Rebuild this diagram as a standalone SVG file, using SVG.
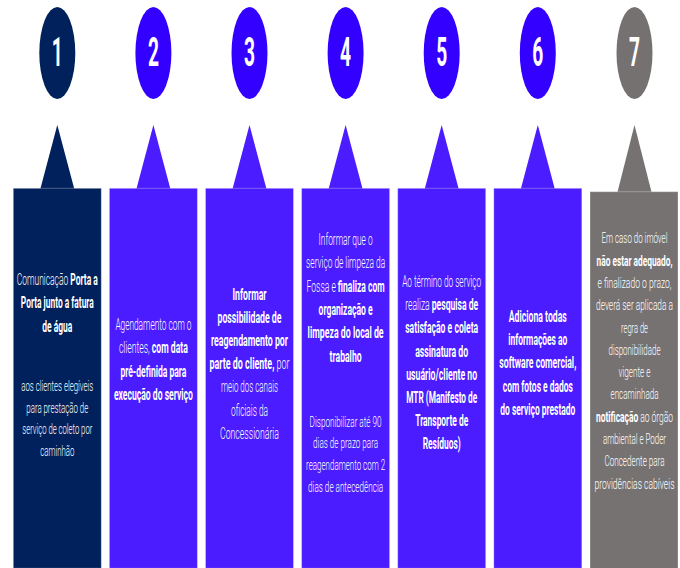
<svg xmlns="http://www.w3.org/2000/svg" width="680" height="568" viewBox="0 0 680 568">
<style>
.navy{fill:#00215b}
.vc{fill:#3300ff}
.vb{fill:#4a1cff}
.gc{fill:#767171}
.gb{fill:#767272}
.box{stroke:#ffffff;stroke-opacity:0.3;stroke-width:1}
.num{font-family:Roboto,"Liberation Sans",sans-serif;font-weight:700;font-size:40px;fill:#ffffff;text-anchor:middle}
text.t{font-family:Roboto,"Liberation Sans",sans-serif;font-weight:300;font-size:16px;fill:#ffffff;text-anchor:middle}
text.s{font-size:15px}
text.b,tspan.b{font-weight:700}
</style>
<rect width="680" height="568" fill="#ffffff"/>

<g id="node-1">
<ellipse class="navy" cx="57.3" cy="53" rx="18" ry="46"/>
<text class="num" x="57.3" y="66" textLength="11" lengthAdjust="spacingAndGlyphs">1</text>
<polygon class="navy" points="40.3,189 57.3,125 74.3,189"/>
<rect class="navy box" x="13.3" y="188.3" width="88" height="380"/>
<text class="t" x="57.3" y="285" textLength="81" lengthAdjust="spacingAndGlyphs">Comunicação <tspan class="b">Porta a</tspan></text>
<text class="t b" x="57.3" y="308.3" textLength="73" lengthAdjust="spacingAndGlyphs">Porta junto a fatura</text>
<text class="t b" x="57.3" y="331.7" textLength="30" lengthAdjust="spacingAndGlyphs">de água</text>
<text class="t s" x="57.3" y="391" textLength="72" lengthAdjust="spacingAndGlyphs">aos clientes elegíveis</text>
<text class="t s" x="57.3" y="412.5" textLength="62" lengthAdjust="spacingAndGlyphs">para prestação de</text>
<text class="t s" x="57.3" y="434" textLength="70" lengthAdjust="spacingAndGlyphs">serviço de coleto por</text>
<text class="t s" x="57.3" y="455.5" textLength="34" lengthAdjust="spacingAndGlyphs">caminhão</text>
</g>

<g id="node-2">
<ellipse class="vc" cx="153.4" cy="53" rx="18" ry="46"/>
<text class="num" x="153.4" y="66" textLength="11" lengthAdjust="spacingAndGlyphs">2</text>
<polygon class="vb" points="136.4,189 153.4,125 170.4,189"/>
<rect class="vb box" x="109.4" y="188.3" width="88" height="380"/>
<text class="t" x="153.4" y="330" textLength="76" lengthAdjust="spacingAndGlyphs">Agendamento com o</text>
<text class="t" x="153.4" y="353.3" textLength="69" lengthAdjust="spacingAndGlyphs">clientes, <tspan class="b">com data</tspan></text>
<text class="t b" x="153.4" y="376.6" textLength="66" lengthAdjust="spacingAndGlyphs">pré-definida para</text>
<text class="t b" x="153.4" y="400" textLength="79" lengthAdjust="spacingAndGlyphs">execução do serviço</text>
</g>

<g id="node-3">
<ellipse class="vc" cx="249.5" cy="53" rx="18" ry="46"/>
<text class="num" x="249.5" y="66" textLength="11" lengthAdjust="spacingAndGlyphs">3</text>
<polygon class="vb" points="232.5,189 249.5,125 266.5,189"/>
<rect class="vb box" x="205.5" y="188.3" width="88" height="380"/>
<text class="t b" x="249.5" y="300" textLength="34" lengthAdjust="spacingAndGlyphs">Informar</text>
<text class="t b" x="249.5" y="323.1" textLength="64" lengthAdjust="spacingAndGlyphs">possibilidade de</text>
<text class="t b" x="249.5" y="346.2" textLength="77" lengthAdjust="spacingAndGlyphs">reagendamento por</text>
<text class="t" x="249.5" y="369.3" textLength="80" lengthAdjust="spacingAndGlyphs"><tspan class="b">parte do cliente,</tspan> por</text>
<text class="t" x="249.5" y="392.4" textLength="57" lengthAdjust="spacingAndGlyphs">meio dos canais</text>
<text class="t" x="249.5" y="415.5" textLength="37" lengthAdjust="spacingAndGlyphs">oficiais da</text>
<text class="t" x="249.5" y="438.6" textLength="59" lengthAdjust="spacingAndGlyphs">Concessionária</text>
</g>

<g id="node-4">
<ellipse class="vc" cx="345.6" cy="53" rx="18" ry="46"/>
<text class="num" x="345.6" y="66" textLength="11" lengthAdjust="spacingAndGlyphs">4</text>
<polygon class="vb" points="328.6,189 345.6,125 362.6,189"/>
<rect class="vb box" x="301.6" y="188.3" width="88" height="380"/>
<text class="t" x="345.6" y="245" textLength="54" lengthAdjust="spacingAndGlyphs">Informar que o</text>
<text class="t" x="345.6" y="268.3" textLength="79" lengthAdjust="spacingAndGlyphs">serviço de limpeza da</text>
<text class="t" x="345.6" y="291.6" textLength="78" lengthAdjust="spacingAndGlyphs">Fossa e <tspan class="b">finaliza com</tspan></text>
<text class="t b" x="345.6" y="314.9" textLength="54" lengthAdjust="spacingAndGlyphs">organização e</text>
<text class="t b" x="345.6" y="338.2" textLength="76" lengthAdjust="spacingAndGlyphs">limpeza do local de</text>
<text class="t b" x="345.6" y="361.5" textLength="32" lengthAdjust="spacingAndGlyphs">trabalho</text>
<text class="t s" x="345.6" y="426.7" textLength="72" lengthAdjust="spacingAndGlyphs">Disponibilizar até 90</text>
<text class="t s" x="345.6" y="448.4" textLength="65" lengthAdjust="spacingAndGlyphs">dias de prazo para</text>
<text class="t s" x="345.6" y="470.1" textLength="79" lengthAdjust="spacingAndGlyphs">reagendamento com 2</text>
<text class="t s" x="345.6" y="491.8" textLength="75" lengthAdjust="spacingAndGlyphs">dias de antecedência</text>
</g>

<g id="node-5">
<ellipse class="vc" cx="441.7" cy="53" rx="18" ry="46"/>
<text class="num" x="441.7" y="66" textLength="11" lengthAdjust="spacingAndGlyphs">5</text>
<polygon class="vb" points="424.7,189 441.7,125 458.7,189"/>
<rect class="vb box" x="397.7" y="188.3" width="88" height="380"/>
<text class="t" x="441.7" y="286.7" textLength="79" lengthAdjust="spacingAndGlyphs">Ao término do serviço</text>
<text class="t" x="441.7" y="310" textLength="73" lengthAdjust="spacingAndGlyphs">realiza <tspan class="b">pesquisa de</tspan></text>
<text class="t b" x="441.7" y="333.3" textLength="73" lengthAdjust="spacingAndGlyphs">satisfação e coleta</text>
<text class="t b" x="441.7" y="356.5" textLength="53" lengthAdjust="spacingAndGlyphs">assinatura do</text>
<text class="t b" x="441.7" y="379.7" textLength="71" lengthAdjust="spacingAndGlyphs">usuário/cliente no</text>
<text class="t b" x="441.7" y="403" textLength="71" lengthAdjust="spacingAndGlyphs">MTR (Manifesto de</text>
<text class="t b" x="441.7" y="426.2" textLength="53" lengthAdjust="spacingAndGlyphs">Transporte de</text>
<text class="t b" x="441.7" y="449.4" textLength="38" lengthAdjust="spacingAndGlyphs">Resíduos)</text>
</g>

<g id="node-6">
<ellipse class="vc" cx="537.8" cy="53" rx="18" ry="46"/>
<text class="num" x="537.8" y="66" textLength="11" lengthAdjust="spacingAndGlyphs">6</text>
<polygon class="vb" points="520.8,189 537.8,125 554.8,189"/>
<rect class="vb box" x="493.8" y="188.3" width="88" height="380"/>
<text class="t b" x="537.8" y="321.7" textLength="58" lengthAdjust="spacingAndGlyphs">Adiciona todas</text>
<text class="t b" x="537.8" y="345" textLength="59" lengthAdjust="spacingAndGlyphs">informações ao</text>
<text class="t b" x="537.8" y="368.3" textLength="77" lengthAdjust="spacingAndGlyphs">software comercial,</text>
<text class="t b" x="537.8" y="391.6" textLength="70" lengthAdjust="spacingAndGlyphs">com fotos e dados</text>
<text class="t b" x="537.8" y="414.9" textLength="75" lengthAdjust="spacingAndGlyphs">do serviço prestado</text>
</g>

<g id="node-7">
<ellipse class="gc" cx="634.5" cy="53" rx="18" ry="46"/>
<text class="num" x="634.5" y="66" textLength="11" lengthAdjust="spacingAndGlyphs">7</text>
<polygon class="gb" points="617.5,192 634.5,125 651.5,192"/>
<rect class="gb box" x="590" y="191.7" width="88" height="377"/>
<text class="t s" x="634.5" y="243.3" textLength="66" lengthAdjust="spacingAndGlyphs">Em caso do imóvel</text>
<text class="t s b" x="634.5" y="265.6" textLength="76" lengthAdjust="spacingAndGlyphs">não estar adequado,</text>
<text class="t s" x="634.5" y="287.9" textLength="74" lengthAdjust="spacingAndGlyphs">e finalizado o prazo,</text>
<text class="t s" x="634.5" y="310.2" textLength="77" lengthAdjust="spacingAndGlyphs">deverá ser aplicada a</text>
<text class="t s" x="634.5" y="332.5" textLength="27" lengthAdjust="spacingAndGlyphs">regra de</text>
<text class="t s" x="634.5" y="354.8" textLength="52" lengthAdjust="spacingAndGlyphs">disponibilidade</text>
<text class="t s" x="634.5" y="377.1" textLength="32" lengthAdjust="spacingAndGlyphs">vigente e</text>
<text class="t s" x="634.5" y="399.4" textLength="48" lengthAdjust="spacingAndGlyphs">encaminhada</text>
<text class="t s" x="634.5" y="421.7" textLength="77" lengthAdjust="spacingAndGlyphs"><tspan class="b">notificação</tspan> ao órgão</text>
<text class="t s" x="634.5" y="444" textLength="63" lengthAdjust="spacingAndGlyphs">ambiental e Poder</text>
<text class="t s" x="634.5" y="466.3" textLength="60" lengthAdjust="spacingAndGlyphs">Concedente para</text>
<text class="t s" x="634.5" y="488.6" textLength="80" lengthAdjust="spacingAndGlyphs">providências cabíveis</text>
</g>
</svg>
